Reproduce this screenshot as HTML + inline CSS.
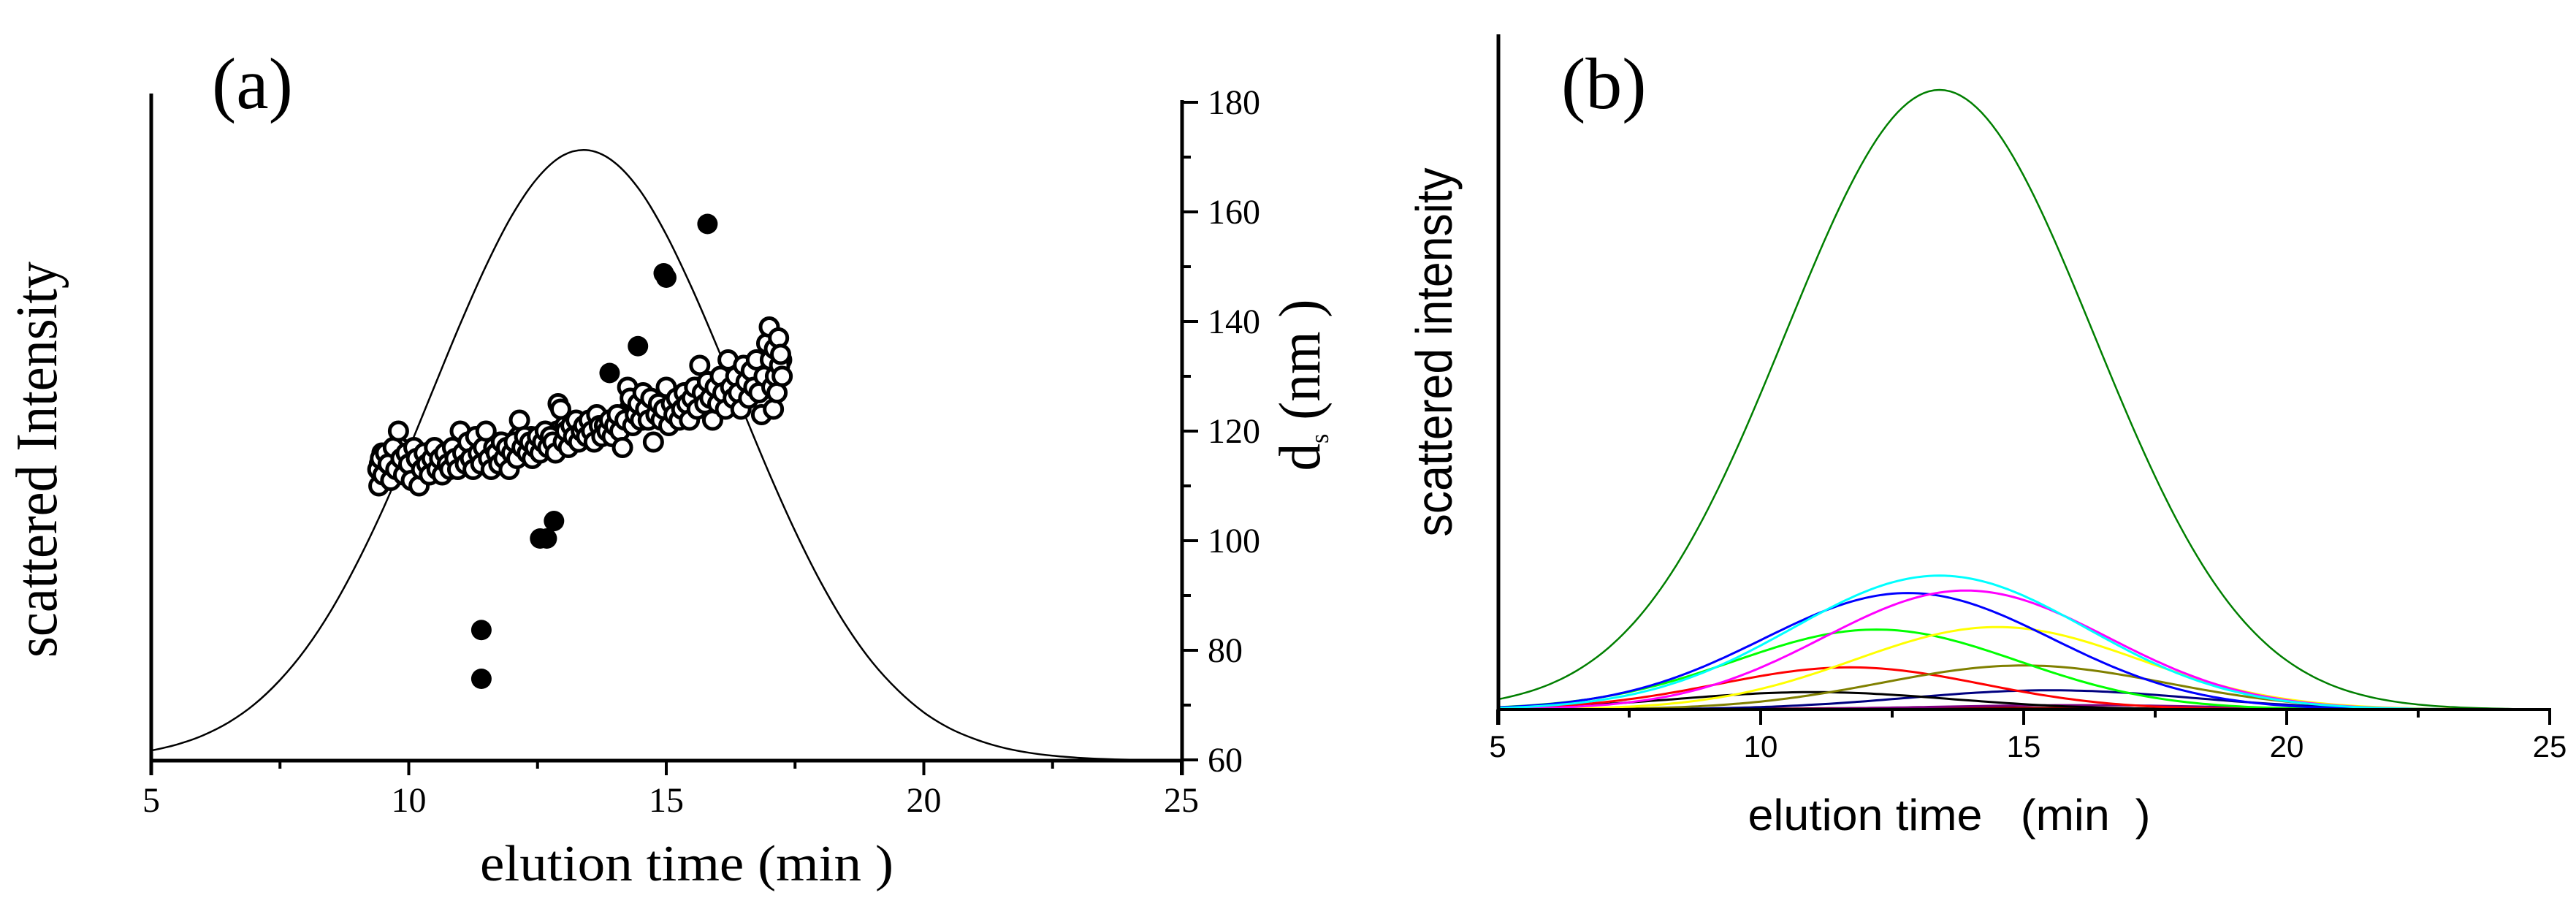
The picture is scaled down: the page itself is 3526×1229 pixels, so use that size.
<!DOCTYPE html>
<html><head><meta charset="utf-8"><style>
html,body{margin:0;padding:0;background:#fff;}
svg{display:block;}
</style></head><body>
<svg id="chart" width="3526" height="1229" viewBox="0 0 3526 1229" xmlns="http://www.w3.org/2000/svg">
<rect width="3526" height="1229" fill="#fff"/>
<g id="pa"></g>
<g id="pb"></g>
<text x="290" y="148" font-family="Liberation Serif, serif" font-size="100">(a)</text>
<text x="2137" y="148" font-family="Liberation Serif, serif" font-size="100">(b)</text>
<text transform="translate(77,629) rotate(-90)" text-anchor="middle" font-family="Liberation Serif, serif" font-size="80" textLength="542" lengthAdjust="spacingAndGlyphs">scattered Intensity</text>
<text transform="translate(1806,527) rotate(-90)" text-anchor="middle" font-family="Liberation Serif, serif" font-size="80" textLength="235" lengthAdjust="spacingAndGlyphs">d<tspan font-size="36" dy="12">s</tspan><tspan dy="-12"> (nm )</tspan></text>
<text x="940" y="1205" text-anchor="middle" font-family="Liberation Serif, serif" font-size="70" textLength="566" lengthAdjust="spacingAndGlyphs">elution time (min )</text>
<text transform="translate(1987,482) rotate(-90)" text-anchor="middle" font-family="Liberation Sans, sans-serif" font-size="70" textLength="505" lengthAdjust="spacingAndGlyphs">scattered intensity</text>
<text x="2668" y="1136" text-anchor="middle" font-family="Liberation Sans, sans-serif" font-size="60" textLength="551" lengthAdjust="spacingAndGlyphs" xml:space="preserve">elution time   (min  )</text>
</svg>
<script>
// ---------- Panel (a) data ----------
var gridX = [5,5.5,6,6.5,7,7.5,8,8.5,9,9.5,10,10.5,11,11.5,12,12.5,13,13.5,14,14.5,15,15.5,16,16.5,17,17.5,18,18.5,19,19.5,20,20.5,21,21.5,22,22.5,23,23.5,24,24.5,25];
var intensityA = [1.64,2.64,4.12,6.25,9.2,13.2,18.3,24.7,32.4,41.2,51.0,61.3,71.5,81.0,89.2,95.4,99.1,99.9,97.9,93.2,86.1,77.3,67.5,57.1,47.0,37.6,29.2,22.0,16.1,11.5,7.9,5.3,3.5,2.2,1.35,0.8,0.47,0.26,0.14,0.07,0.03];
var openX = [9.40,9.42,9.45,9.5,9.55,9.6,9.65,9.7,9.75,9.8,9.85,9.9,9.95,10.0,10.05,10.1,10.15,10.2,10.25,10.3,10.35,10.4,10.45,10.5,10.55,10.6,10.65,10.7,10.75,10.8,10.85,10.9,10.95,11.0,11.05,11.1,11.15,11.2,11.25,11.3,11.35,11.4,11.45,11.5,11.55,11.6,11.65,11.7,11.75,11.8,11.85,11.9,11.95,12.0,12.05,12.1,12.15,12.2,12.25,12.3,12.35,12.4,12.45,12.5,12.55,12.6,12.65,12.7,12.75,12.8,12.85,12.9,12.95,13.0,13.05,13.1,13.15,13.2,13.25,13.3,13.35,13.4,13.45,13.5,13.55,13.6,13.65,13.7,13.75,13.8,13.85,13.9,13.95,14.0,14.05,14.1,14.15,14.2,14.25,14.3,14.35,14.4,14.45,14.5,14.55,14.6,14.65,14.7,14.75,14.8,14.85,14.9,14.95,15.0,15.05,15.1,15.15,15.2,15.25,15.3,15.35,15.4,15.45,15.5,15.55,15.6,15.65,15.7,15.75,15.8,15.85,15.9,15.95,16.0,16.05,16.1,16.15,16.2,16.25,16.3,16.35,16.4,16.45,16.5,16.55,16.6,16.65,16.7,16.75,16.8,16.85,16.9,16.95,17.0,17.02,17.05,17.08,17.1,17.12,17.15,17.18,17.2,17.22,17.25];
var openY = [113,110,115,112,116,114,111,117,113,120,115,112,116,114,111,117,115,110,113,116,114,112,115,117,113,115,112,116,114,113,117,115,113,120,116,114,118,115,113,119,116,114,117,120,115,113,117,116,114,118,115,117,113,116,118,115,122,117,119,116,118,115,117,119,116,118,120,117,119,118,116,125,124,118,120,117,121,119,122,118,120,121,119,122,120,118,123,121,119,121,120,122,119,121,123,120,117,122,128,126,121,123,125,122,127,124,122,126,118,123,125,122,124,128,121,125,123,126,122,124,127,125,122,126,128,124,132,127,125,129,126,122,128,125,130,127,124,133,128,126,130,127,124,132,129,126,131,128,133,127,123,130,136,139,133,128,124,135,130,127,137,132,134,130];
var openX2 = [9.43,9.48,9.53,9.58,9.63,9.68,9.73,9.78,9.83,9.88,9.93,9.98,10.03,10.08,10.13,10.18,10.23,10.28,10.33,10.38,10.43,10.48,10.53,10.58,10.63,10.68,10.73,10.78,10.83,10.88,10.93,10.98,11.03,11.08,11.13,11.18,11.23,11.28,11.33,11.38,11.43,11.48,11.53,11.58,11.63,11.68,11.73,11.78,11.83,11.88,11.93,11.98,12.03,12.08,12.13,12.18,12.23,12.28,12.33,12.38,12.43,12.48,12.53,12.58,12.63,12.68,12.73,12.78,12.83,12.88,12.93,12.98,13.03,13.08,13.13,13.18,13.23,13.28,13.33,13.38,13.43,13.48,13.53,13.58,13.63,13.68,13.73,13.78,13.83,13.88,13.93,13.98,14.03,14.08,14.13,14.18,14.23,14.28,14.33,14.38,14.43,14.48,14.53,14.58,14.63,14.68,14.73,14.78,14.83,14.88,14.93,14.98,15.03,15.08,15.13,15.18,15.23,15.28,15.33,15.38,15.43,15.48,15.53,15.58,15.63,15.68,15.73,15.78,15.83,15.88,15.93,15.98,16.03,16.08,16.13,16.18,16.23,16.28,16.33,16.38,16.43,16.48,16.53,16.58,16.63,16.68,16.73,16.78,16.83,16.88,16.93,16.98,17.03,17.09,17.14,17.19,17.24];
var openY2 = [114,116,113,115,112,116,114,115,117,113,115,114,116,113,115,114,116,112,115,113,116,114,113,115,114,116,115,114,116,114,115,114,117,115,116,114,117,116,115,118,115,116,118,116,115,117,116,118,116,117,116,117,118,116,119,117,118,117,116,119,117,118,117,118,119,117,118,119,117,120,119,118,121,119,120,119,121,120,119,121,120,120,122,121,119,121,122,120,121,122,121,120,122,121,122,121,123,124,123,122,124,123,122,125,124,123,125,124,123,125,126,124,125,124,126,125,124,126,125,127,126,124,127,126,128,126,127,125,129,127,126,128,127,129,128,127,129,128,127,130,128,129,130,129,128,131,130,129,131,130,129,133,131,132,134,131,133];
var filledX = [11.41,11.41,12.55,12.68,12.82,13.9,14.45,14.95,15.0,15.8];
var filledY = [83.7,74.8,100.4,100.4,103.6,130.6,135.5,148.8,148.0,157.8];
var xTicksA = [5,10,15,20,25];
var rightTicks = [60,80,100,120,140,160,180];

// ---------- Panel (b) data ----------
var peakColors  = ['#007f00','#00ffff','#ff00ff','#0000ff','#ffff00','#00ff00','#808000','#ff0000','#000000','#000080','#800080','#800000'];
var peakCenters = [13.4,13.4,13.9,12.8,14.5,12.2,15.0,11.7,11.0,15.5,16.0,14.0];
var peakHeights = [100,21.6,19.2,18.8,13.3,12.9,7.1,6.8,2.8,3.1,0.7,0.3];
var peakWidths  = [2.93,2.8,2.7,2.75,2.7,2.7,2.7,2.5,2.6,2.7,2.7,3.0];
var xTicksB = [5,10,15,20,25];

var NS='http://www.w3.org/2000/svg';
function mk(tag,attrs,parent){var e=document.createElementNS(NS,tag);for(var k in attrs)e.setAttribute(k,attrs[k]);parent.appendChild(e);return e;}

var ax = function(t){return 207+(t-5)*70.5;};
var ayI = function(v){return 1041-v*8.36;};
var ayD = function(d){return 1040-(d-60)*7.5;};
var bx = function(t){return 2050+(t-5)*72;};
var by = function(v){return 971-v*8.48;};

var pa=document.getElementById('pa'), pb=document.getElementById('pb');

function smooth(pts){
  var d='M'+pts[0][0].toFixed(1)+','+pts[0][1].toFixed(1);
  for(var i=0;i<pts.length-1;i++){
    var p0=pts[i-1]||pts[i],p1=pts[i],p2=pts[i+1],p3=pts[i+2]||p2;
    var c1x=p1[0]+(p2[0]-p0[0])/6,c1y=p1[1]+(p2[1]-p0[1])/6;
    var c2x=p2[0]-(p3[0]-p1[0])/6,c2y=p2[1]-(p3[1]-p1[1])/6;
    d+=' C'+c1x.toFixed(1)+','+c1y.toFixed(1)+' '+c2x.toFixed(1)+','+c2y.toFixed(1)+' '+p2[0].toFixed(1)+','+p2[1].toFixed(1);
  }
  return d;
}

var ptsA=[];for(var i=0;i<gridX.length;i++)ptsA.push([ax(gridX[i]),ayI(intensityA[i])]);
var curveA=mk('path',{d:smooth(ptsA),fill:'none',stroke:'#000','stroke-width':2.5},pa);



function drawOpen(xs,ys){
  for(var i=0;i<xs.length;i++){
    var c=mk('circle',{cx:ax(xs[i]),cy:ayD(ys[i]),r:12,fill:'#fff',stroke:'#000','stroke-width':5},pa);
    
    
  }
}
drawOpen(openX2,openY2);
drawOpen(openX,openY);
for(var i=0;i<filledX.length;i++){
  var c=mk('circle',{cx:ax(filledX[i]),cy:ayD(filledY[i]),r:14,fill:'#000'},pa);
  
  
}
var l;
l=mk('line',{x1:207,y1:128,x2:207,y2:1061,stroke:'#000','stroke-width':5},pa);


l=mk('line',{x1:205,y1:1041,x2:1620,y2:1041,stroke:'#000','stroke-width':5},pa);


l=mk('line',{x1:1618,y1:137,x2:1618,y2:1061,stroke:'#000','stroke-width':5},pa);


for(var t=5;t<=25;t+=2.5){
  var major=(t%5===0);
  l=mk('line',{x1:ax(t),y1:1041,x2:ax(t),y2:major?1061:1052,stroke:'#000','stroke-width':4},pa);
  
  
}
for(var i=0;i<xTicksA.length;i++){
  var tx=mk('text',{x:ax(xTicksA[i]),y:1111,'text-anchor':'middle','font-family':'Liberation Serif, serif','font-size':48},pa);
  tx.textContent=xTicksA[i];
  
  
}
for(var d=60;d<=180;d+=10){
  var major=(d%20===0);
  l=mk('line',{x1:1618,y1:ayD(d),x2:major?1640:1630,y2:ayD(d),stroke:'#000','stroke-width':4},pa);
  
  
}
for(var i=0;i<rightTicks.length;i++){
  var tx=mk('text',{x:1653,y:ayD(rightTicks[i])+16,'font-family':'Liberation Serif, serif','font-size':48},pa);
  tx.textContent=rightTicks[i];
  
  
}

for(var k=peakColors.length-1;k>=0;k--){
  var pts=[];
  for(var t=5;t<=25.001;t+=0.1){
    var z=(t-peakCenters[k])/peakWidths[k];
    pts.push([bx(t),by(peakHeights[k]*Math.exp(-0.5*z*z))]);
  }
  var d='M'+pts.map(function(p){return p[0].toFixed(1)+','+p[1].toFixed(1);}).join(' L');
  var p=mk('path',{d:d,fill:'none',stroke:peakColors[k],'stroke-width':k===0?2.5:3},pb);
  
  
}
l=mk('line',{x1:2051,y1:47,x2:2051,y2:992,stroke:'#000','stroke-width':5},pb);


l=mk('line',{x1:2049,y1:971,x2:3492,y2:971,stroke:'#000','stroke-width':4},pb);


for(var t=5;t<=25;t+=2.5){
  var major=(t%5===0);
  l=mk('line',{x1:bx(t),y1:971,x2:bx(t),y2:major?992:982,stroke:'#000','stroke-width':4},pb);
  
  
}
for(var i=0;i<xTicksB.length;i++){
  var tx=mk('text',{x:bx(xTicksB[i]),y:1036,'text-anchor':'middle','font-family':'Liberation Sans, sans-serif','font-size':42},pb);
  tx.textContent=xTicksB[i];
  
  
}
</script>
</body></html>
